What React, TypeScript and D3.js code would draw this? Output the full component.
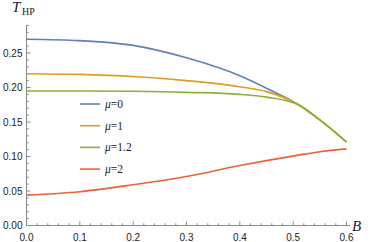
import React from "react";
import * as d3 from "d3";

const bValues = [0, 0.1, 0.2, 0.3, 0.4, 0.45, 0.51, 0.55, 0.6];
const mu0 = [0.27, 0.268, 0.261, 0.243, 0.217, 0.199, 0.175, 0.153, 0.121];
const mu1 = [0.22, 0.219, 0.216, 0.21, 0.201, 0.194, 0.175, 0.153, 0.121];
const mu12 = [0.195, 0.195, 0.1945, 0.193, 0.19, 0.186, 0.175, 0.153, 0.121];
const mu2 = [0.044, 0.049, 0.059, 0.071, 0.087, 0.094, 0.102, 0.107, 0.111];

const seriesNames = ["μ=0", "μ=1", "μ=1.2", "μ=2"];
const seriesColors = ["#5E81B5", "#E19C24", "#8FB032", "#EB6235"];
const seriesData = [mu0, mu1, mu12, mu2];

const xTicks = [0, 0.1, 0.2, 0.3, 0.4, 0.5, 0.6];
const yTicks = [0, 0.05, 0.1, 0.15, 0.2, 0.25];

export default function App() {
  const W = 371, H = 242;
  const x = d3.scaleLinear().domain([0, 0.6]).range([26.5, 346.5]);
  const y = d3.scaleLinear().domain([0, 0.25]).range([225.5, 53]);
  const line = d3
    .line<number>()
    .x((_, i) => x(bValues[i]))
    .y((d) => y(d))
    .curve(d3.curveMonotoneX);

  const xMinor = d3.range(0, 0.6001, 0.02).filter((v) => !xTicks.some((t) => Math.abs(t - v) < 1e-6));
  const yMinor = d3.range(0, 0.2901, 0.01).filter((v) => !yTicks.some((t) => Math.abs(t - v) < 1e-6));
  const axisColor = "#888";
  const tickFont = "Liberation Sans, Arial, sans-serif";
  const serif = "Liberation Serif, Times New Roman, serif";

  return (
    <svg width={W} height={H} style={{ position: "absolute", left: 0, top: 0 }}>
      <rect width={W} height={H} fill="white" />
      <line x1={x(0)} x2={350} y1={y(0)} y2={y(0)} stroke={axisColor} strokeWidth={1} />
      <line x1={x(0)} x2={x(0)} y1={y(0)} y2={25} stroke={axisColor} strokeWidth={1} />
      {xTicks.map((t) => (
        <g key={"xt" + t}>
          <line x1={x(t)} x2={x(t)} y1={y(0)} y2={y(0) - 4} stroke={axisColor} />
          <text x={x(t)} y={y(0) + 15} fontSize={10} fontFamily={tickFont} textAnchor="middle" fill="#222">
            {t.toFixed(1)}
          </text>
        </g>
      ))}
      {xMinor.map((t) => (
        <line key={"xm" + t} x1={x(t)} x2={x(t)} y1={y(0)} y2={y(0) - 2.2} stroke={axisColor} />
      ))}
      {yTicks.map((t) => (
        <g key={"yt" + t}>
          <line x1={x(0)} x2={x(0) + 4} y1={y(t)} y2={y(t)} stroke={axisColor} />
          <text x={x(0) - 4} y={y(t) + 3.5} fontSize={10} fontFamily={tickFont} textAnchor="end" fill="#222">
            {t.toFixed(2)}
          </text>
        </g>
      ))}
      {yMinor.map((t) => (
        <line key={"ym" + t} x1={x(0)} x2={x(0) + 2.2} y1={y(t)} y2={y(t)} stroke={axisColor} />
      ))}
      <text x={12} y={12} fontFamily={serif} fontSize={15} fontStyle="italic" fill="#222">
        T
      </text>
      <text x={22} y={15} fontFamily={serif} fontSize={10} fill="#222">
        HP
      </text>
      <text x={352} y={231} fontFamily={serif} fontSize={15} fontStyle="italic" fill="#222">
        B
      </text>
      {seriesData.map((s, i) => (
        <path key={"s" + i} d={line(s) || ""} fill="none" stroke={seriesColors[i]} strokeWidth={1.6} />
      ))}
      {seriesNames.map((n, i) => (
        <g key={"lg" + i} transform={`translate(80, ${104 + i * 21.7})`}>
          <line x1={0} x2={20} y1={0} y2={0} stroke={seriesColors[i]} strokeWidth={1.6} />
          <text x={25} y={4} fontFamily={serif} fontSize={11.5} fill="#222">
            <tspan fontStyle="italic">μ</tspan>
            {n.slice(1)}
          </text>
        </g>
      ))}
    </svg>
  );
}
